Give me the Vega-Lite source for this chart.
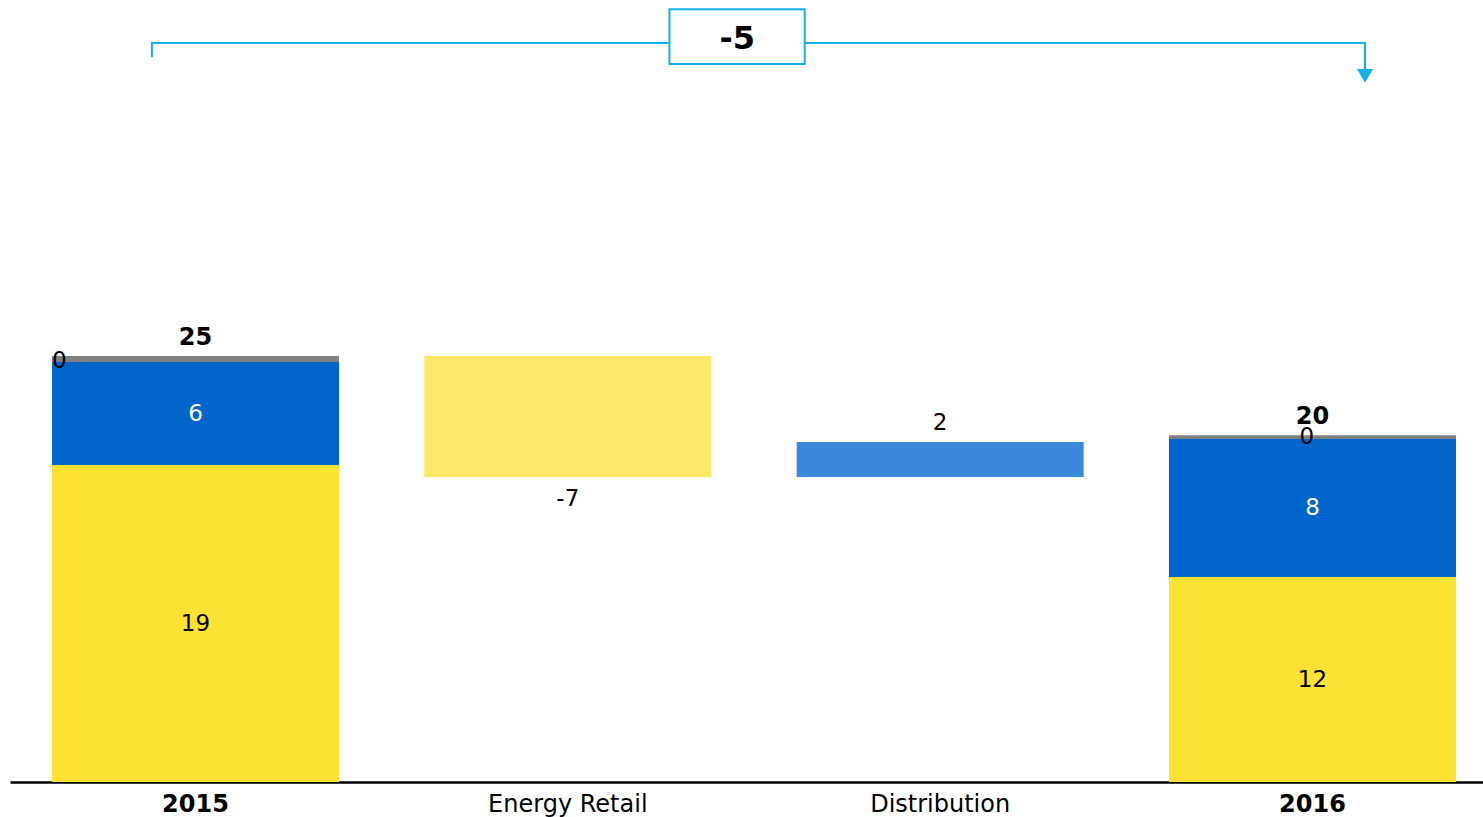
{
  "$schema": "https://vega.github.io/schema/vega-lite/v6.json",
  "width": 1473,
  "height": 782,
  "autosize": {"type": "none"},
  "padding": {"left": 10, "top": 0, "right": 0, "bottom": 35},
  "background": "white",
  "config": {
    "view": {"stroke": null},
    "font": "DejaVu Sans",
    "text": {"font": "DejaVu Sans", "fontSize": 23}
  },
  "datasets": {
    "bars": [
      {"cat": "2015", "series": "Energy Retail", "start": 0, "end": 18.6, "label": "19"},
      {"cat": "2015", "series": "Distribution", "start": 18.6, "end": 24.65, "label": "6"},
      {"cat": "2015", "series": "Other", "start": 24.65, "end": 25.0, "label": "0"},
      {"cat": "Energy Retail", "series": "Energy Retail change", "start": 25.0, "end": 17.9, "label": "-7"},
      {"cat": "Distribution", "series": "Distribution change", "start": 17.9, "end": 19.95, "label": "2"},
      {"cat": "2016", "series": "Energy Retail", "start": 0, "end": 12.03, "label": "12"},
      {"cat": "2016", "series": "Distribution", "start": 12.03, "end": 20.13, "label": "8"},
      {"cat": "2016", "series": "Other", "start": 20.13, "end": 20.36, "label": "0"}
    ],
    "totals": [
      {"cat": "2015", "total": 25.0, "label": "25"},
      {"cat": "2016", "total": 20.36, "label": "20"}
    ],
    "bracket": [
      {"from": "2015", "to": "2016", "boxFrom": "Energy Retail", "boxTo": "Distribution", "label": "-5"}
    ]
  },
  "encoding": {
    "x": {
      "field": "cat",
      "type": "nominal",
      "scale": {
        "type": "band",
        "domain": ["2015", "Energy Retail", "Distribution", "2016"],
        "paddingInner": 0.2292,
        "paddingOuter": 0.0927,
        "align": 0.6087
      },
      "axis": {
        "title": null,
        "orient": "bottom",
        "domainColor": "black",
        "domainWidth": 2.5,
        "ticks": false,
        "tickSize": 0,
        "labelPadding": 10,
        "labelFontSize": 24,
        "labelFont": "DejaVu Sans",
        "labelColor": "black",
        "labelAngle": 0,
        "labelFontWeight": {"condition": {"test": "datum.value === '2015' || datum.value === '2016'", "value": "bold"}, "value": "normal"}
      }
    }
  },
  "layer": [
    {
      "data": {"name": "bars"},
      "mark": {"type": "bar"},
      "encoding": {
        "y": {"field": "start", "type": "quantitative", "scale": {"domain": [0, 45.9], "nice": false, "zero": true}, "axis": null},
        "y2": {"field": "end"},
        "color": {
          "field": "series",
          "type": "nominal",
          "scale": {
            "domain": ["Energy Retail", "Distribution", "Other", "Energy Retail change", "Distribution change"],
            "range": ["#FDE233", "#0066CC", "#808080", "#FEE766", "#3A87DB"]
          },
          "legend": null
        }
      }
    },
    {
      "data": {"name": "bars"},
      "transform": [
        {"filter": "(datum.cat === '2015' || datum.cat === '2016') && datum.series !== 'Other'"},
        {"calculate": "(datum.start + datum.end) / 2", "as": "mid"}
      ],
      "mark": {"type": "text", "baseline": "middle", "align": "center"},
      "encoding": {
        "y": {"field": "mid", "type": "quantitative"},
        "text": {"field": "label"},
        "color": {"condition": {"test": "datum.series === 'Distribution'", "value": "white"}, "value": "black"}
      }
    },
    {
      "data": {"name": "bars"},
      "transform": [
        {"filter": "datum.cat === '2015' && datum.series === 'Other'"},
        {"calculate": "(datum.start + datum.end) / 2", "as": "mid"}
      ],
      "mark": {"type": "text", "baseline": "middle", "align": "left", "color": "black", "dy": 2},
      "encoding": {
        "x": {"field": "cat", "type": "nominal", "bandPosition": 0},
        "y": {"field": "mid", "type": "quantitative"},
        "text": {"field": "label"}
      }
    },
    {
      "data": {"name": "bars"},
      "transform": [
        {"filter": "datum.cat === '2016' && datum.series === 'Other'"},
        {"calculate": "(datum.start + datum.end) / 2", "as": "mid"}
      ],
      "mark": {"type": "text", "baseline": "middle", "align": "center", "color": "black"},
      "encoding": {
        "x": {"field": "cat", "type": "nominal", "bandPosition": 0.48},
        "y": {"field": "mid", "type": "quantitative"},
        "text": {"field": "label"}
      }
    },
    {
      "data": {"name": "bars"},
      "transform": [{"filter": "datum.series === 'Energy Retail change'"}],
      "mark": {"type": "text", "baseline": "middle", "align": "center", "dy": 22, "color": "black"},
      "encoding": {
        "y": {"field": "end", "type": "quantitative"},
        "text": {"field": "label"}
      }
    },
    {
      "data": {"name": "bars"},
      "transform": [{"filter": "datum.series === 'Distribution change'"}],
      "mark": {"type": "text", "baseline": "middle", "align": "center", "dy": -19, "color": "black"},
      "encoding": {
        "y": {"field": "end", "type": "quantitative"},
        "text": {"field": "label"}
      }
    },
    {
      "data": {"name": "totals"},
      "mark": {"type": "text", "baseline": "middle", "align": "center", "dy": -18, "fontWeight": "bold", "color": "black", "fontSize": 24},
      "encoding": {
        "y": {"field": "total", "type": "quantitative"},
        "text": {"field": "label"}
      }
    },
    {
      "data": {"name": "bracket"},
      "mark": {"type": "rule", "color": "#12B0EC", "strokeWidth": 2},
      "encoding": {
        "x": {"field": "from", "type": "nominal", "bandPosition": 0.348},
        "x2": {"field": "to", "bandPosition": 0.683},
        "y": {"datum": 43.37, "type": "quantitative"}
      }
    },
    {
      "data": {"name": "bracket"},
      "mark": {"type": "rule", "color": "#12B0EC", "strokeWidth": 2},
      "encoding": {
        "x": {"field": "from", "type": "nominal", "bandPosition": 0.348},
        "y": {"datum": 43.43, "type": "quantitative"},
        "y2": {"datum": 42.55}
      }
    },
    {
      "data": {"name": "bracket"},
      "mark": {"type": "rule", "color": "#12B0EC", "strokeWidth": 2},
      "encoding": {
        "x": {"field": "to", "type": "nominal", "bandPosition": 0.683},
        "y": {"datum": 43.43, "type": "quantitative"},
        "y2": {"datum": 41.8}
      }
    },
    {
      "data": {"name": "bracket"},
      "mark": {"type": "point", "shape": "triangle-down", "filled": true, "size": 256, "color": "#12B0EC", "opacity": 1},
      "encoding": {
        "x": {"field": "to", "type": "nominal", "bandPosition": 0.683},
        "y": {"datum": 41.45, "type": "quantitative"}
      }
    },
    {
      "data": {"name": "bracket"},
      "mark": {"type": "rect", "fill": "white", "stroke": "#12B0EC", "strokeWidth": 2},
      "encoding": {
        "x": {"field": "boxFrom", "type": "nominal", "bandPosition": 0.854},
        "x2": {"field": "boxTo", "bandPosition": 0.028},
        "y": {"datum": 45.36, "type": "quantitative"},
        "y2": {"datum": 42.14}
      }
    },
    {
      "data": {"name": "bracket"},
      "mark": {"type": "text", "baseline": "middle", "align": "center", "fontSize": 32, "fontWeight": "bold", "color": "black"},
      "encoding": {
        "x": {"field": "boxFrom", "type": "nominal", "bandPosition": 1.09},
        "y": {"datum": 43.6, "type": "quantitative"},
        "text": {"field": "label"}
      }
    }
  ]
}
